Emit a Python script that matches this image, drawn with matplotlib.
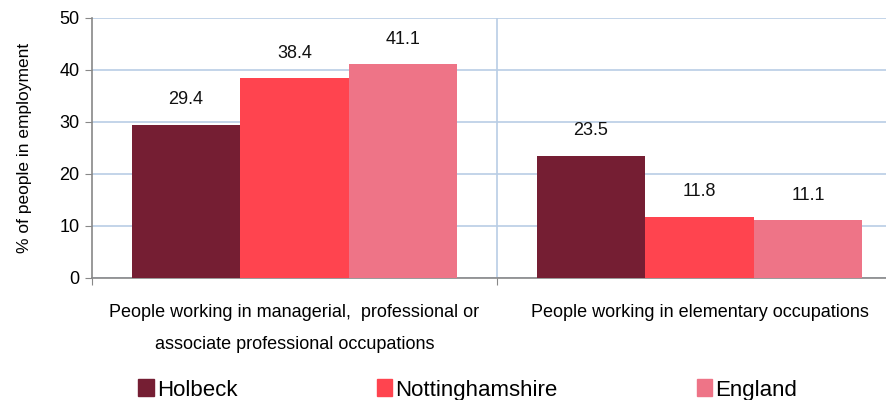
import numpy as np
import matplotlib.pyplot as plt
from matplotlib.patches import Patch

plt.rcParams['font.family'] = ['Liberation Sans', 'DejaVu Sans']

# data
categories = ["People working in managerial,  professional or\nassociate professional occupations",
              "People working in elementary occupations"]
series = ["Holbeck", "Nottinghamshire", "England"]
holbeck = [29.4, 23.5]
notts = [38.4, 11.8]
england = [41.1, 11.1]
colors = ["#751E33", "#FF444F", "#EE7487"]

fig = plt.figure(figsize=(8.86, 4.0), dpi=100)
ax = fig.add_axes([92 / 886, 0.305, 810 / 886, 0.65])

x = np.arange(len(categories))
w = 0.268
for i, (vals, c) in enumerate(zip([holbeck, notts, england], colors)):
    bars = ax.bar(x + (i - 1) * w, vals, w, color=c, zorder=3)
    for b, v in zip(bars, vals):
        ax.text(b.get_x() + b.get_width() / 2, v + 3.2, f"{v:.1f}",
                ha='center', va='bottom', fontsize=13, color='#111111')

ax.set_xlim(-0.5, 1.5)
ax.set_ylim(0, 50)
ax.set_yticks(range(0, 51, 10))
ax.tick_params(axis='y', labelsize=13, length=5, color='#888888', pad=4)
ax.set_ylabel("% of people in employment", fontsize=12.5, labelpad=20)

# gridlines, incl. the separator between the two categories
ax.grid(axis='y', color='#B9CDE5', lw=1.2, zorder=0)
ax.axvline(0.5, color='#B9CDE5', lw=1.2, zorder=0)
ax.set_xticks([-0.5, 0.5])
ax.set_xticklabels([])
ax.tick_params(axis='x', length=5, color='#888888')
ax.set_xticks(x, minor=True)
ax.set_xticklabels(categories, minor=True, fontsize=13, linespacing=2.1)
ax.tick_params(axis='x', which='minor', length=0, pad=19)

for s in ['top', 'right']:
    ax.spines[s].set_visible(False)
for s in ['left', 'bottom']:
    ax.spines[s].set_color('#888888')
    ax.spines[s].set_linewidth(1.2)

handles = [Patch(color=c, label=s) for c, s in zip(colors, series)]
fig.legend(handles=handles, loc='center', bbox_to_anchor=(0.528, 0.025), ncol=3,
           frameon=False, fontsize=16, handlelength=0.7, handleheight=0.8,
           handletextpad=0.15, columnspacing=6.25)

fig.savefig("out.png", dpi=100)
